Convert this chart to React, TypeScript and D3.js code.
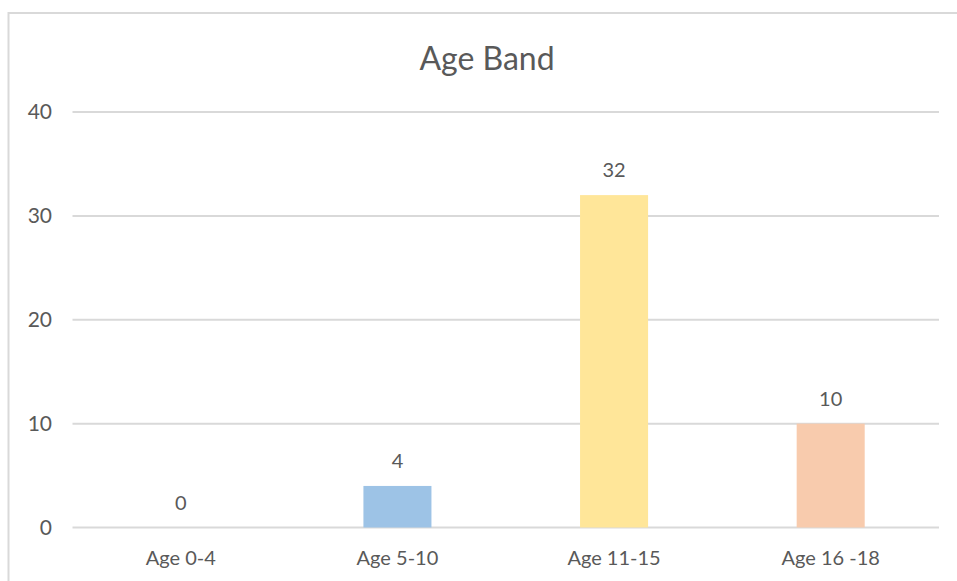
import React from "react";
import * as d3 from "d3";

const categories = ["Age 0-4", "Age 5-10", "Age 11-15", "Age 16 -18"];
const values = [0, 4, 32, 10];
const colors = ["#9DC3E6", "#9DC3E6", "#FFE699", "#F8CBAD"];
const yTicks = [0, 10, 20, 30, 40];
const title = "Age Band";

export default function App() {
  const W = 957, H = 581;
  const left = 72.5, right = 939, top = 112, bottom = 527.5;
  const x = d3.scaleBand().domain(categories).range([left, right]).paddingInner(0.686).paddingOuter(0.343);
  const y = d3.scaleLinear().domain([0, 40]).range([bottom, top]);
  const font = "Lato, 'Open Sans', sans-serif";
  const textColor = "#595959";
  return (
    <svg width={W} height={H} style={{ position: "absolute", left: 0, top: 0, background: "#fff" }}>
      <rect x={8.5} y={13} width={960} height={600} fill="#fff" stroke="#d9d9d9" strokeWidth={2} />
      <text x={487} y={70} textAnchor="middle" fontFamily={font} fontSize={32} fill={textColor}>{title}</text>
      {yTicks.map((t) => (
        <g key={t}>
          <line x1={left} x2={right} y1={y(t)} y2={y(t)} stroke="#d9d9d9" strokeWidth={2} />
          <text x={52} y={y(t) + 7} textAnchor="end" fontFamily={font} fontSize={21} fill={textColor}>{t}</text>
        </g>
      ))}
      {categories.map((c, i) => {
        const bx = x(c)!;
        const bw = x.bandwidth();
        return (
          <g key={c}>
            {values[i] > 0 && (
              <rect x={bx} y={y(values[i])} width={bw} height={y(0) - y(values[i])} fill={colors[i]} />
            )}
            <text x={bx + bw / 2} y={y(values[i]) - 18} textAnchor="middle" fontFamily={font} fontSize={20} fill={textColor}>{values[i]}</text>
            <text x={bx + bw / 2} y={bottom + 37} textAnchor="middle" fontFamily={font} fontSize={20} fill={textColor}>{c}</text>
          </g>
        );
      })}
    </svg>
  );
}
